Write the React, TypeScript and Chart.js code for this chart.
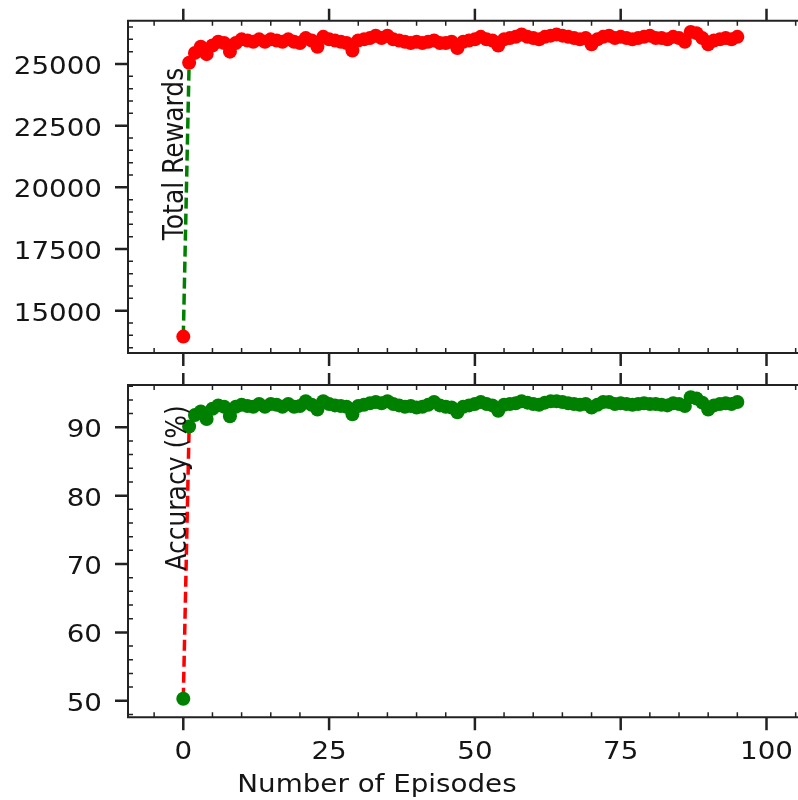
import React, { useEffect, useRef } from "react";
import { Chart, registerables } from "chart.js";

Chart.register(...registerables);

const episodes = [
  0, 1, 2, 3, 4, 5, 6, 7, 8, 9, 10, 11, 12, 13, 14, 15, 16, 17, 18, 19,
  20, 21, 22, 23, 24, 25, 26, 27, 28, 29, 30, 31, 32, 33, 34, 35, 36, 37, 38, 39,
  40, 41, 42, 43, 44, 45, 46, 47, 48, 49, 50, 51, 52, 53, 54, 55, 56, 57, 58, 59,
  60, 61, 62, 63, 64, 65, 66, 67, 68, 69, 70, 71, 72, 73, 74, 75, 76, 77, 78, 79,
  80, 81, 82, 83, 84, 85, 86, 87, 88, 89, 90, 91, 92, 93, 94, 95,
];

const totalRewards = [
  13950, 25050, 25450, 25700, 25400, 25750, 25900, 25850, 25500, 25850,
  26000, 25950, 25900, 26000, 25900, 26000, 25950, 25900, 26000, 25900,
  25850, 26050, 25950, 25700, 26100, 26000, 25950, 25900, 25850, 25550,
  25950, 26000, 26050, 26150, 26050, 26150, 26000, 25950, 25900, 25850,
  25900, 25850, 25900, 25950, 25850, 25850, 25900, 25650, 25900, 25950,
  26000, 26100, 26000, 25950, 25750, 26000, 26050, 26100, 26200, 26100,
  26050, 26000, 26100, 26150, 26200, 26150, 26100, 26050, 26000, 26050,
  25800, 26000, 26100, 26150, 26050, 26100, 26050, 26000, 26050, 26100,
  26150, 26050, 26050, 26000, 26100, 26050, 25900, 26300, 26250, 26050,
  25800, 25950, 26000, 26050, 26000, 26100,
];

const accuracy = [
  50.3, 90.1, 91.8, 92.3, 91.2, 92.7, 93.2, 93.0, 91.6, 93.0,
  93.3, 93.1, 93.0, 93.4, 93.0, 93.4, 93.3, 93.0, 93.4, 93.0,
  93.1, 93.8, 93.3, 92.6, 93.8, 93.4, 93.2, 93.1, 93.0, 91.9,
  93.1, 93.3, 93.5, 93.7, 93.5, 93.8, 93.4, 93.2, 93.0, 93.1,
  92.9, 93.0, 93.3, 93.7, 93.2, 93.0, 92.9, 92.2, 93.0, 93.2,
  93.4, 93.7, 93.4, 93.2, 92.4, 93.3, 93.4, 93.5, 93.8, 93.6,
  93.4, 93.3, 93.6, 93.8, 93.8, 93.7, 93.5, 93.4, 93.3, 93.4,
  92.9, 93.3, 93.7, 93.7, 93.4, 93.5, 93.4, 93.3, 93.4, 93.5,
  93.4, 93.4, 93.3, 93.2, 93.5, 93.4, 93.1, 94.4, 94.2, 93.6,
  92.6, 93.2, 93.4, 93.5, 93.4, 93.7,
];

const xTicks = [0, 25, 50, 75, 100];
const rewardTicks = [15000, 17500, 20000, 22500, 25000];
const accuracyTicks = [50, 60, 70, 80, 90];

const FONT = "'DejaVu Sans', 'Liberation Sans', sans-serif";
const AXIS_COLOR = "#222222";
const TEXT_COLOR = "#151515";
const STRETCH = 1.11;
const FONT_SIZE = 25;

type DecoOpts = {
  yTicks: number[];
  xMinorStep: number;
  yMinorStep: number;
  yLabel: string;
  yLabelX: number;
  yLabelY: number;
  xTitle?: string;
  xTitleX?: number;
  xTitleY?: number;
  xLabelY?: number;
};

function stretchedText(
  ctx: CanvasRenderingContext2D,
  text: string,
  x: number,
  y: number,
  align: CanvasTextAlign,
  rotate = false
) {
  ctx.save();
  ctx.translate(x, y);
  ctx.scale(STRETCH, 1);
  if (rotate) ctx.rotate(-Math.PI / 2);
  ctx.textAlign = align;
  ctx.textBaseline = "alphabetic";
  ctx.fillText(text, 0, 0);
  ctx.restore();
}

function makeDeco(o: DecoOpts) {
  return {
    id: "deco",
    afterDatasetsDraw(chart: any) {
      const { ctx, chartArea: a, scales } = chart;
      const x = scales.x;
      const y = scales.y;
      ctx.save();
      ctx.strokeStyle = AXIS_COLOR;
      ctx.lineCap = "butt";
      // spines
      ctx.lineWidth = 2;
      ctx.beginPath();
      ctx.moveTo(a.left, a.top);
      ctx.lineTo(a.right + 4, a.top);
      ctx.moveTo(a.left, a.bottom);
      ctx.lineTo(a.right + 4, a.bottom);
      ctx.moveTo(a.left, a.top - 1);
      ctx.lineTo(a.left, a.bottom + 1);
      ctx.stroke();

      // x major ticks outward (top and bottom)
      ctx.lineWidth = 2.5;
      ctx.beginPath();
      for (const v of xTicks) {
        const px = x.getPixelForValue(v);
        if (px < a.left || px > a.right) continue;
        ctx.moveTo(px, a.top);
        ctx.lineTo(px, a.top - 12);
        ctx.moveTo(px, a.bottom);
        ctx.lineTo(px, a.bottom + 13);
      }
      ctx.stroke();

      // x minor ticks inward
      ctx.lineWidth = 1.5;
      ctx.beginPath();
      const xs = Math.ceil(x.min / o.xMinorStep) * o.xMinorStep;
      for (let v = xs; v <= x.max; v += o.xMinorStep) {
        if (xTicks.includes(v)) continue;
        const px = x.getPixelForValue(v);
        ctx.moveTo(px, a.top);
        ctx.lineTo(px, a.top + 5);
        ctx.moveTo(px, a.bottom);
        ctx.lineTo(px, a.bottom - 5);
      }
      ctx.stroke();

      // y minor ticks inward
      ctx.beginPath();
      const ys = Math.ceil(y.min / o.yMinorStep) * o.yMinorStep;
      for (let v = ys; v <= y.max; v += o.yMinorStep) {
        if (o.yTicks.some((m) => Math.abs(m - v) < 1e-6)) continue;
        const py = y.getPixelForValue(v);
        ctx.moveTo(a.left, py);
        ctx.lineTo(a.left + 5, py);
      }
      ctx.stroke();

      // y major ticks outward + labels
      ctx.lineWidth = 2.5;
      ctx.beginPath();
      for (const m of o.yTicks) {
        const py = y.getPixelForValue(m);
        ctx.moveTo(a.left, py);
        ctx.lineTo(a.left - 13, py);
      }
      ctx.stroke();

      ctx.fillStyle = TEXT_COLOR;
      ctx.font = `${FONT_SIZE}px ${FONT}`;
      for (const m of o.yTicks) {
        const py = y.getPixelForValue(m);
        stretchedText(ctx, String(m), a.left - 26, py + 10, "right");
      }

      if (o.xLabelY !== undefined) {
        for (const v of xTicks) {
          const px = x.getPixelForValue(v);
          stretchedText(ctx, String(v), px, o.xLabelY, "center");
        }
      }

      // rotated y label inside plot
      stretchedText(ctx, o.yLabel, o.yLabelX, o.yLabelY, "center", true);

      if (o.xTitle) {
        stretchedText(ctx, o.xTitle, o.xTitleX || 0, o.xTitleY || 0, "center");
      }
      ctx.restore();
    },
  };
}

function buildConfig(
  values: number[],
  lineColor: string,
  pointColor: string,
  yMin: number,
  yMax: number,
  padding: any,
  deco: any
): any {
  return {
    type: "line",
    data: {
      datasets: [
        {
          data: episodes.map((e, i) => ({ x: e, y: values[i] })),
          borderColor: lineColor,
          borderWidth: 3.5,
          borderDash: [11, 5],
          pointBackgroundColor: pointColor,
          pointBorderColor: pointColor,
          pointBorderWidth: 0,
          pointRadius: 7,
          pointHoverRadius: 7,
          tension: 0,
          clip: false,
        },
      ],
    },
    options: {
      responsive: false,
      animation: false,
      events: [],
      layout: { padding, autoPadding: false },
      plugins: {
        legend: { display: false },
        tooltip: { enabled: false },
      },
      scales: {
        x: {
          type: "linear",
          min: -9.48,
          max: 105.4,
          display: false,
        },
        y: {
          type: "linear",
          min: yMin,
          max: yMax,
          display: false,
        },
      },
    },
    plugins: [deco],
  };
}

export default function App() {
  const topRef = useRef<HTMLCanvasElement | null>(null);
  const botRef = useRef<HTMLCanvasElement | null>(null);

  useEffect(() => {
    const topChart = new Chart(
      topRef.current as HTMLCanvasElement,
      buildConfig(
        totalRewards,
        "#008000",
        "#ff0000",
        13285,
        26755,
        { top: 20.7, bottom: 19, left: 128, right: 0 },
        makeDeco({
          yTicks: rewardTicks,
          xMinorStep: 5,
          yMinorStep: 500,
          yLabel: "Total Rewards",
          yLabelX: 183,
          yLabelY: 154,
        })
      )
    );
    const botChart = new Chart(
      botRef.current as HTMLCanvasElement,
      buildConfig(
        accuracy,
        "#ff0000",
        "#008000",
        47.58,
        96.18,
        { top: 13, bottom: 82.7, left: 128, right: 0 },
        makeDeco({
          yTicks: accuracyTicks,
          xMinorStep: 5,
          yMinorStep: 2,
          yLabel: "Accuracy (%)",
          yLabelX: 186,
          yLabelY: 116,
          xLabelY: 387,
          xTitle: "Number of Episodes",
          xTitleX: 377,
          xTitleY: 420,
        })
      )
    );
    return () => {
      topChart.destroy();
      botChart.destroy();
    };
  }, []);

  return (
    <div
      style={{
        position: "absolute",
        left: 0,
        top: 0,
        width: 798,
        height: 800,
        background: "#ffffff",
        overflow: "hidden",
      }}
    >
      <canvas
        ref={topRef}
        width={798}
        height={372}
        style={{ position: "absolute", left: 0, top: 0, width: 798, height: 372 }}
      />
      <canvas
        ref={botRef}
        width={798}
        height={428}
        style={{ position: "absolute", left: 0, top: 372, width: 798, height: 428 }}
      />
    </div>
  );
}
